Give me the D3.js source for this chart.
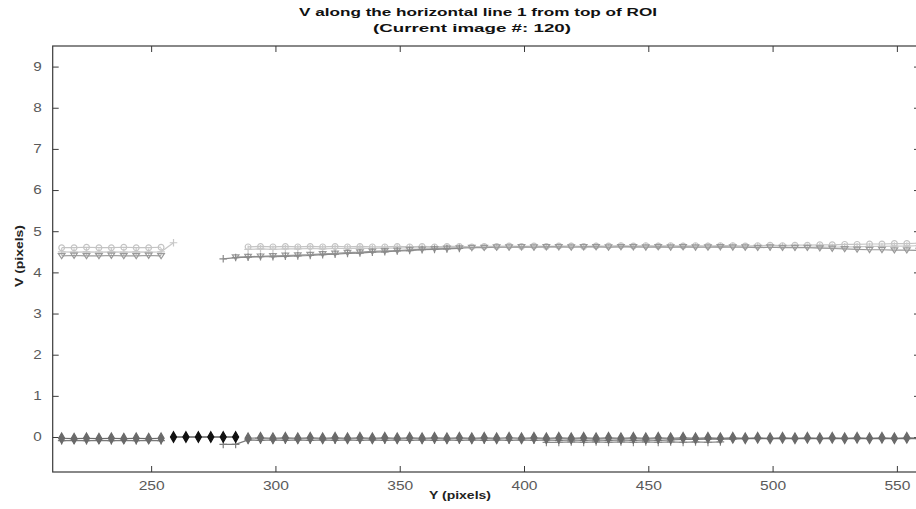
<!DOCTYPE html>
<html>
<head>
<meta charset="utf-8">
<script src="https://cdn.jsdelivr.net/npm/d3@7"></script>
<style>
  html, body { margin: 0; padding: 0; background: #fff; }
  svg { display: block; font-family: "Liberation Sans", Arial, sans-serif; }
</style>
</head>
<body>
<svg id="chart" width="916" height="509"></svg>
<script>
// Sample positions along the line (Y, pixels)
const yPositions = [214, 219, 224, 229, 234, 239, 244, 249, 254, 259,
  264, 269, 274, 279, 284, 289, 294, 299, 304, 309,
  314, 319, 324, 329, 334, 339, 344, 349, 354, 359,
  364, 369, 374, 379, 384, 389, 394, 399, 404, 409,
  414, 419, 424, 429, 434, 439, 444, 449, 454, 459,
  464, 469, 474, 479, 484, 489, 494, 499, 504, 509,
  514, 519, 524, 529, 534, 539, 544, 549, 554, 559];

const xTicks = [250, 300, 350, 400, 450, 500, 550];
const yTicks = [0, 1, 2, 3, 4, 5, 6, 7, 8, 9];

// V displacement tracks (null = no measurement)
const vUpperTop = [4.60, 4.60, 4.61, 4.60, 4.60, 4.61, 4.60, 4.60, 4.61, null,
  null, null, null, null, null, 4.62, 4.63, 4.62, 4.63, 4.62,
  4.63, 4.62, 4.63, 4.62, 4.63, 4.62, 4.62, 4.63, 4.62, 4.63,
  4.62, 4.63, 4.63, 4.62, 4.63, 4.63, 4.64, 4.63, 4.64, 4.63,
  4.64, 4.64, 4.63, 4.64, 4.64, 4.65, 4.64, 4.65, 4.64, 4.65,
  4.64, 4.65, 4.64, 4.65, 4.65, 4.64, 4.65, 4.66, 4.65, 4.66,
  4.66, 4.67, 4.67, 4.68, 4.68, 4.69, 4.69, 4.70, 4.70, 4.71];

const vUpperMid = [4.50, 4.49, 4.50, 4.49, 4.50, 4.49, 4.50, 4.49, 4.50, 4.72,
  null, null, null, null, null, 4.56, 4.57, 4.56, 4.57, 4.57,
  4.58, 4.57, 4.58, 4.58, 4.59, 4.58, 4.59, 4.59, 4.60, 4.59,
  4.60, 4.60, 4.61, 4.60, 4.61, 4.61, 4.62, 4.61, 4.62, 4.62,
  4.62, 4.63, 4.62, 4.63, 4.62, 4.63, 4.62, 4.63, 4.63, 4.62,
  4.63, 4.62, 4.63, 4.62, 4.63, 4.62, 4.62, 4.61, 4.62, 4.61,
  4.61, 4.62, 4.61, 4.62, 4.62, 4.63, 4.63, 4.64, 4.64, 4.65];

const vUpperLow = [4.40, 4.41, 4.40, 4.40, 4.41, 4.40, 4.40, 4.41, 4.40, null,
  null, null, null, null, 4.37, 4.38, 4.39, 4.40, 4.41, 4.42,
  4.43, 4.45, 4.46, 4.48, 4.49, 4.51, 4.52, 4.53, 4.55, 4.56,
  4.57, 4.58, 4.59, 4.60, 4.60, 4.61, 4.61, 4.62, 4.61, 4.62,
  4.62, 4.61, 4.62, 4.62, 4.61, 4.62, 4.62, 4.61, 4.62, 4.61,
  4.62, 4.61, 4.61, 4.62, 4.61, 4.61, 4.60, 4.61, 4.60, 4.60,
  4.60, 4.59, 4.58, 4.57, 4.56, 4.55, 4.55, 4.54, 4.54, 4.53];

const vUpperStart = [null, null, null, null, null, null, null, null, null, null,
  null, null, null, 4.33, 4.36, 4.37, 4.38, 4.38, 4.39, 4.40,
  4.41, 4.43, 4.44, 4.46, 4.47, 4.49, 4.50, 4.52, 4.53, 4.55,
  4.56, 4.57, 4.58, null, null, null, null, null, null, null,
  null, null, null, null, null, null, null, null, null, null,
  null, null, null, null, null, null, null, null, null, null,
  null, null, null, null, null, null, null, null, null, null];

const vLowerDark = [null, null, null, null, null, null, null, null, null, 0.00,
  0.00, 0.00, 0.00, 0.00, 0.00, null, null, null, null, null,
  null, null, null, null, null, null, null, null, null, null,
  null, null, null, null, null, null, null, null, null, null,
  null, null, null, null, null, null, null, null, null, null,
  null, null, null, null, null, null, null, null, null, null,
  null, null, null, null, null, null, null, null, null, null];

const vLowerA = [-0.03, -0.04, -0.03, -0.04, -0.03, -0.04, -0.03, -0.04, -0.03, null,
  null, null, null, null, null, -0.03, -0.02, -0.03, -0.02, -0.03,
  -0.02, -0.03, -0.02, -0.03, -0.02, -0.03, -0.02, -0.03, -0.02, -0.03,
  -0.02, -0.03, -0.02, -0.03, -0.02, -0.03, -0.02, -0.03, -0.02, -0.03,
  -0.02, -0.03, -0.02, -0.03, -0.02, -0.03, -0.02, -0.03, -0.02, -0.03,
  -0.02, -0.03, -0.02, -0.03, -0.02, -0.03, -0.02, -0.03, -0.02, -0.03,
  -0.02, -0.03, -0.02, -0.03, -0.02, -0.03, -0.02, -0.03, -0.02, -0.03];

const vLowerB = [-0.09, -0.08, -0.09, -0.08, -0.09, -0.08, -0.09, -0.08, -0.09, null,
  null, null, null, -0.18, -0.18, -0.07, -0.08, -0.07, -0.08, -0.07,
  -0.08, -0.07, -0.08, -0.07, -0.08, -0.07, -0.08, -0.07, -0.08, -0.07,
  -0.08, -0.07, -0.08, -0.07, -0.08, -0.07, -0.08, -0.07, -0.08, -0.07,
  -0.08, -0.07, -0.08, -0.07, -0.08, -0.07, -0.08, -0.07, -0.08, -0.07,
  -0.06, -0.06, -0.05, -0.05, -0.05, -0.04, -0.04, -0.04, -0.04, -0.04,
  -0.04, -0.04, -0.04, -0.04, -0.04, -0.04, -0.04, -0.04, -0.04, -0.04];

const vLowerC = [null, null, null, null, null, null, null, null, null, null,
  null, null, null, null, null, null, null, null, null, null,
  null, null, null, null, null, null, null, null, null, null,
  null, null, null, null, null, null, null, null, null, -0.13,
  -0.13, -0.12, -0.13, -0.12, -0.13, -0.12, -0.13, -0.12, -0.13, -0.12,
  -0.13, -0.12, -0.13, -0.12, null, null, null, null, null, null,
  null, null, null, null, null, null, null, null, null, null];

// Track styling: colour, marker
const tracks = [
  { values: vUpperTop,   color: "#c4c4c4", marker: "circle" },
  { values: vUpperMid,   color: "#c8c8c8", marker: "plus" },
  { values: vUpperLow,   color: "#9a9a9a", marker: "vee" },
  { values: vUpperStart, color: "#8a8a8a", marker: "plus" },
  { values: vLowerC,     color: "#8c8c8c", marker: "plus" },
  { values: vLowerB,     color: "#7a7a7a", marker: "plus" },
  { values: vLowerA,     color: "#6a6a6a", marker: "diamond" },
  { values: vLowerDark,  color: "#111111", marker: "diamond" }
];

const svg = d3.select("#chart");
const L = 52.7, R = 920, T = 46, B = 472;

const x = d3.scaleLinear().domain([210.4, 559.3]).range([L, R]);
const y = d3.scaleLinear().domain([-0.85, 9.5]).range([B, T]);

// Axes frame with inward ticks (both sides)
const axisColor = "#3a3a3a";
const tickLen = 6;

function styleAxis(g) {
  g.select(".domain").remove();
  g.selectAll(".tick line").attr("stroke", axisColor).attr("stroke-width", 1);
  g.selectAll(".tick text")
    .attr("fill", "#5a5a5a")
    .style("font-size", "12px")
    .style("font-family", "'Liberation Sans', Arial, sans-serif");
}

svg.append("g").attr("transform", `translate(0,${B})`)
  .call(d3.axisBottom(x).tickValues(xTicks).tickSizeInner(-tickLen).tickSizeOuter(0).tickPadding(9))
  .call(styleAxis)
  .call(g => g.selectAll(".tick text").attr("textLength", 26).attr("lengthAdjust", "spacingAndGlyphs"));

svg.append("g").attr("transform", `translate(0,${T})`)
  .call(d3.axisTop(x).tickValues(xTicks).tickSizeInner(-tickLen).tickSizeOuter(0).tickFormat(""))
  .call(styleAxis);

svg.append("g").attr("transform", `translate(${L},0)`)
  .call(d3.axisLeft(y).tickValues(yTicks).tickSizeInner(-tickLen).tickSizeOuter(0).tickPadding(11))
  .call(styleAxis)
  .call(g => g.selectAll(".tick text").attr("textLength", 8.5).attr("lengthAdjust", "spacingAndGlyphs"));

svg.append("g").attr("transform", `translate(${R},0)`)
  .call(d3.axisRight(y).tickValues(yTicks).tickSizeInner(-tickLen).tickSizeOuter(0).tickFormat(""))
  .call(styleAxis);

svg.append("rect")
  .attr("x", L).attr("y", T).attr("width", R - L).attr("height", B - T)
  .attr("fill", "none").attr("stroke", axisColor).attr("stroke-width", 1.2);

// Data tracks
svg.append("clipPath").attr("id", "plot-clip")
  .append("rect").attr("x", L).attr("y", T).attr("width", R - L).attr("height", B - T);

const plot = svg.append("g").attr("clip-path", "url(#plot-clip)");

const line = d3.line()
  .defined(d => d.v !== null)
  .x(d => x(d.x))
  .y(d => y(d.v));

const markerPath = {
  circle: d3.symbol().type(d3.symbolCircle).size(26)(),
  diamond: d3.symbol().type(d3.symbolDiamond).size(32)(),
  vee: "M-3.3,-2.3L0,2.8L3.3,-2.3Z",
  plus: "M-3.8,0H3.8M0,-3.8V3.8"
};

tracks.forEach(t => {
  const pts = yPositions.map((xv, i) => ({ x: xv, v: t.values[i] }));
  const g = plot.append("g");
  g.append("path")
    .attr("d", line(pts))
    .attr("fill", "none")
    .attr("stroke", t.color)
    .attr("stroke-width", 1.2);
  g.selectAll("path.m")
    .data(pts.filter(d => d.v !== null))
    .join("path")
    .attr("class", "m")
    .attr("transform", d => `translate(${x(d.x)},${y(d.v)})`)
    .attr("d", markerPath[t.marker])
    .attr("fill", t.marker === "diamond" ? t.color : "none")
    .attr("stroke", t.color)
    .attr("stroke-width", 1.2);
});

// Titles and axis labels
svg.append("text")
  .attr("x", 478).attr("y", 16)
  .attr("text-anchor", "middle")
  .attr("font-weight", "bold").attr("font-size", 11.5)
  .attr("textLength", 358).attr("lengthAdjust", "spacingAndGlyphs")
  .attr("fill", "#111")
  .text("V along the horizontal line 1 from top of ROI");

svg.append("text")
  .attr("x", 472).attr("y", 32)
  .attr("text-anchor", "middle")
  .attr("font-weight", "bold").attr("font-size", 11.5)
  .attr("textLength", 198).attr("lengthAdjust", "spacingAndGlyphs")
  .attr("fill", "#111")
  .text("(Current image #: 120)");

svg.append("text")
  .attr("x", 460).attr("y", 499)
  .attr("text-anchor", "middle")
  .attr("font-weight", "bold").attr("font-size", 11.5)
  .attr("textLength", 62).attr("lengthAdjust", "spacingAndGlyphs")
  .attr("fill", "#222")
  .text("Y (pixels)");

svg.append("text")
  .attr("transform", "translate(23,256) rotate(-90)")
  .attr("text-anchor", "middle")
  .attr("font-weight", "bold").attr("font-size", 11.5)
  .attr("textLength", 62).attr("lengthAdjust", "spacingAndGlyphs")
  .attr("fill", "#222")
  .text("V (pixels)");
</script>
</body>
</html>
